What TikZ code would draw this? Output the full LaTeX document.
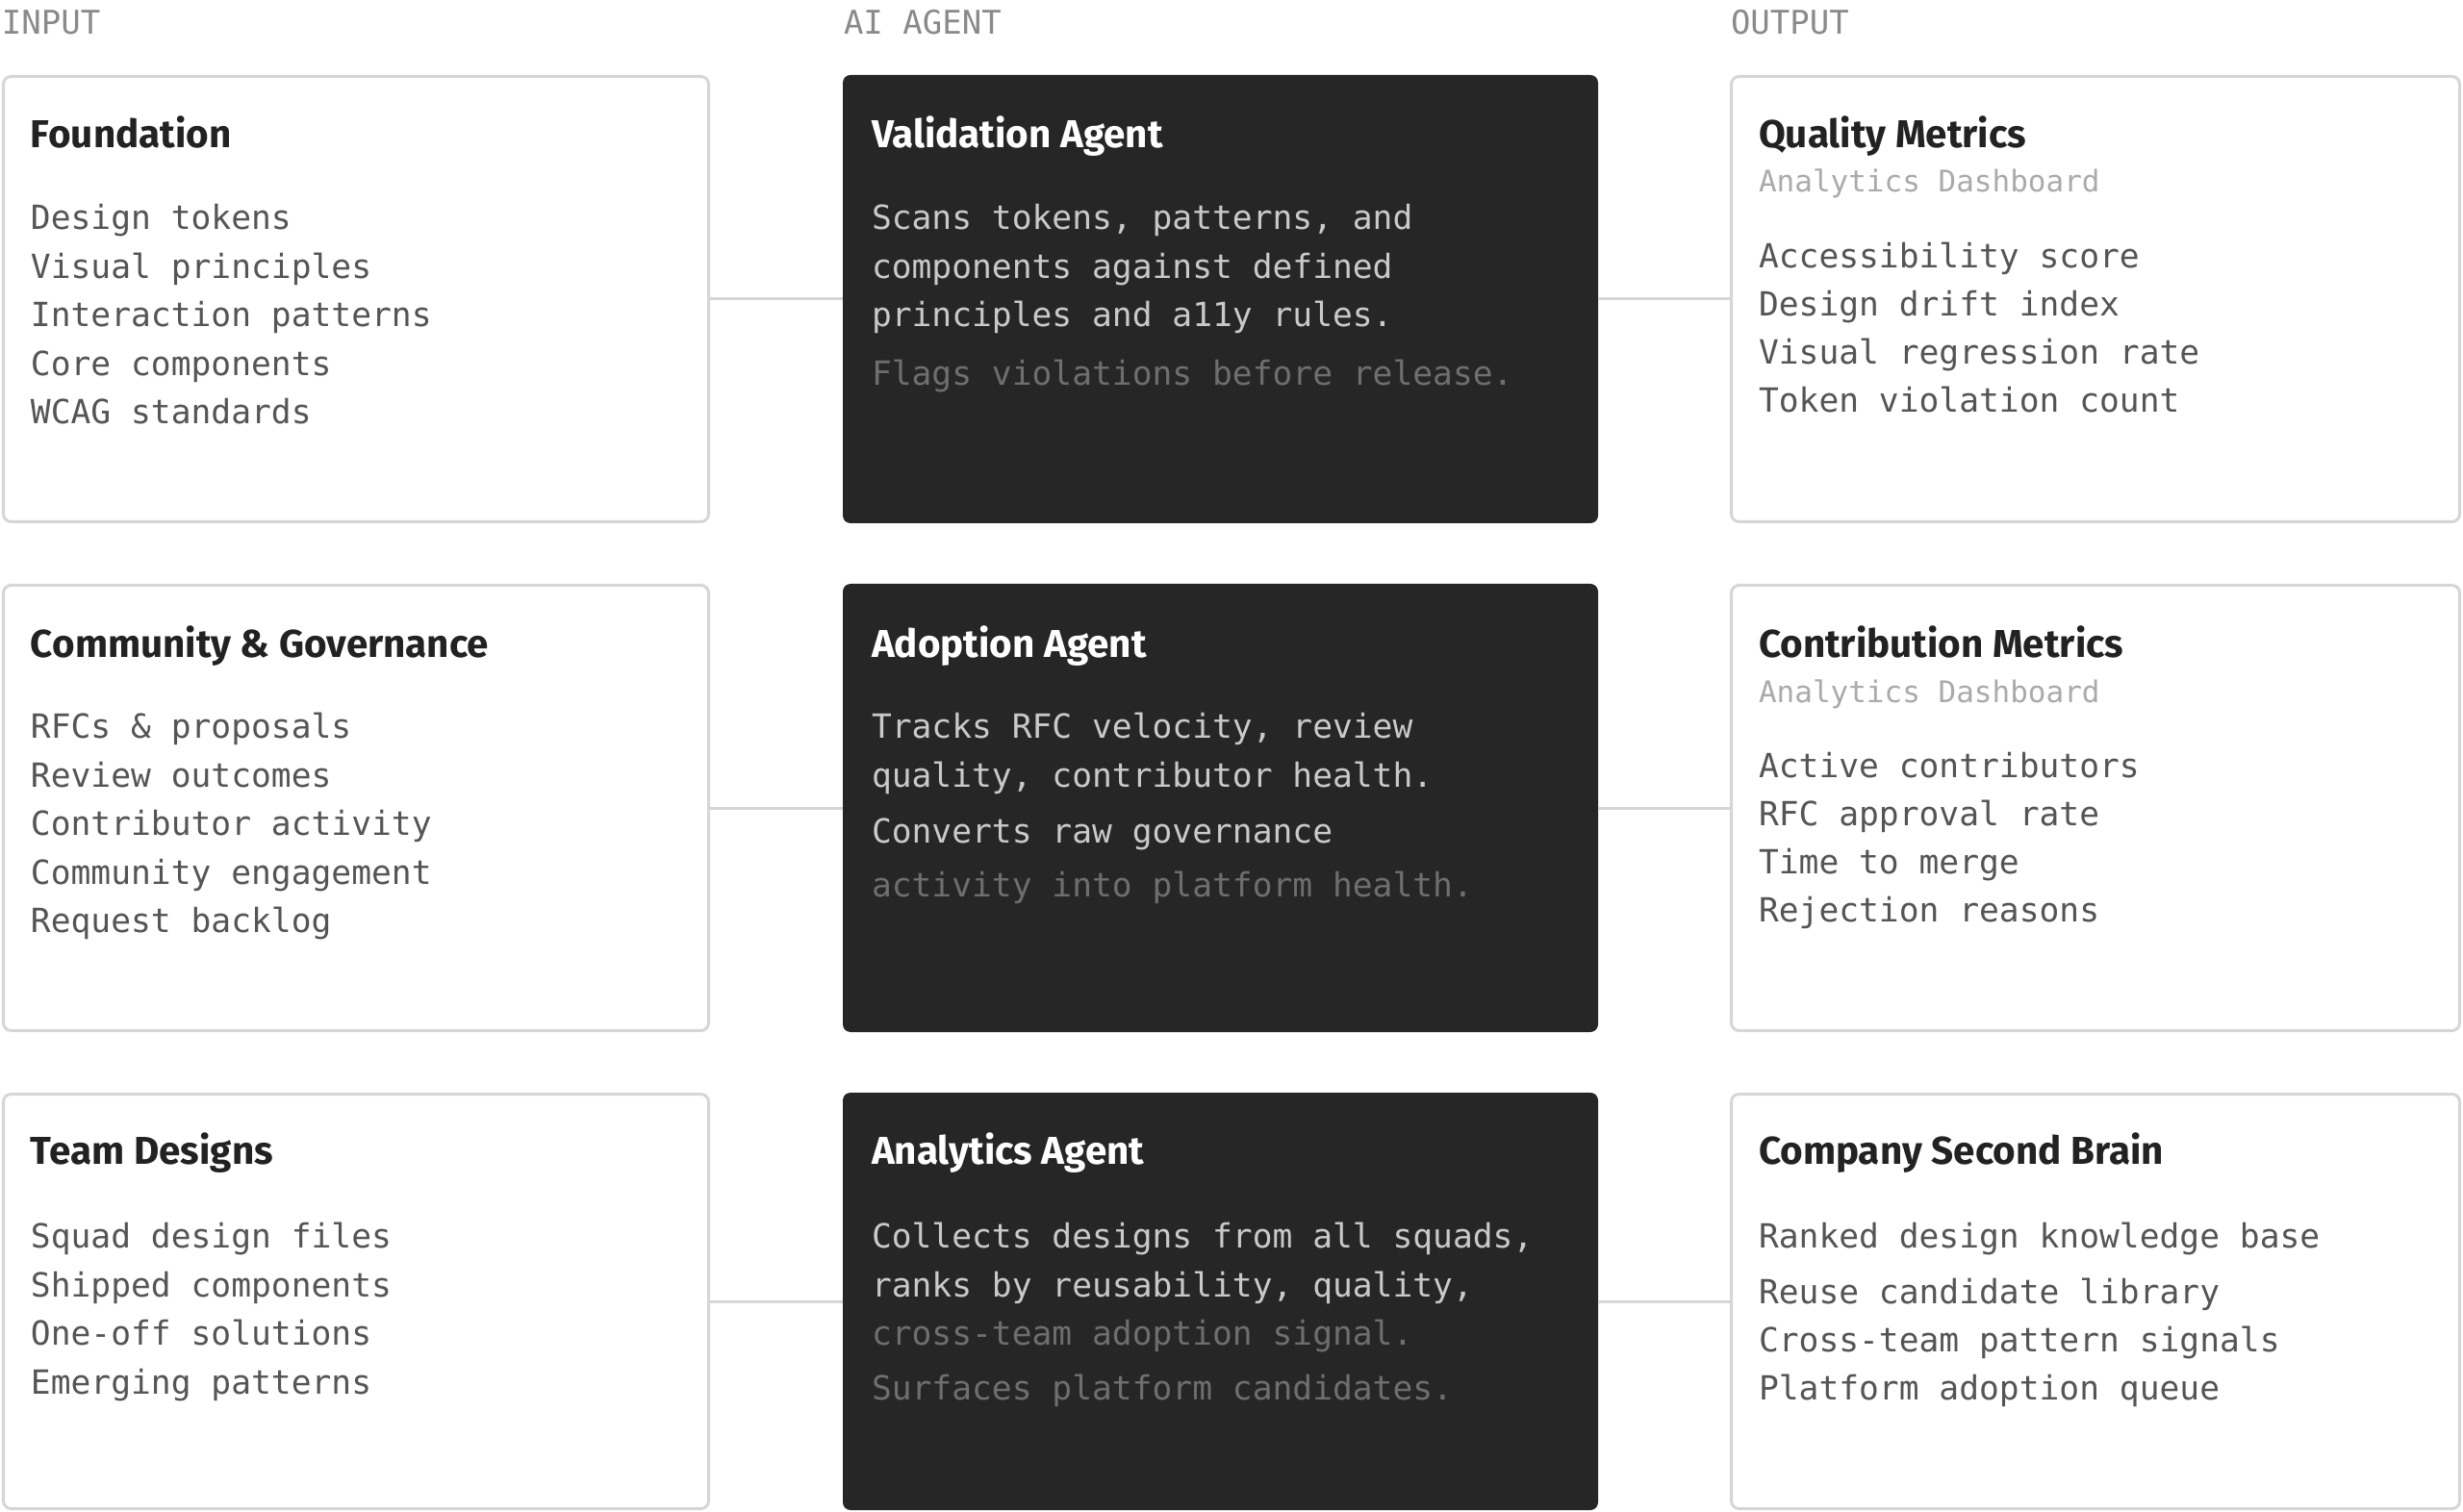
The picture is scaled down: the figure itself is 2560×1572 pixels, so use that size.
\documentclass[tikz,border=0pt]{standalone}
\usepackage{fontspec}
\setmonofont{DejaVu Sans Mono}
\setsansfont{Fira Sans}
\definecolor{bordergray}{HTML}{D6D6D6}
\definecolor{darkfill}{HTML}{262626}
\definecolor{titlecol}{HTML}{222222}
\definecolor{bodycol}{HTML}{555555}
\definecolor{subcol}{HTML}{AAAAAA}
\definecolor{hdrcol}{HTML}{8A8A8A}
\definecolor{dbodycol}{HTML}{C9C9C9}
\definecolor{dimcol}{HTML}{6E6E6E}
\tikzset{
  lightbox/.style={draw=bordergray, line width=1.5pt, fill=white, rounded corners=4pt, inner sep=0pt, outer sep=0pt},
  darkbox/.style={fill=darkfill, rounded corners=4pt, inner sep=0pt, outer sep=0pt, minimum width=392.5pt},
  titletext/.style={anchor=base west, inner sep=0pt, outer sep=0pt, font=\sffamily\bfseries\fontsize{20.2pt}{24pt}\selectfont, text=titlecol},
  dtitletext/.style={titletext, text=white},
  bodytext/.style={anchor=base west, inner sep=0pt, outer sep=0pt, font=\ttfamily\fontsize{17.3pt}{20pt}\selectfont, text=bodycol},
  dbodytext/.style={bodytext, text=dbodycol},
  dimtext/.style={bodytext, text=dimcol},
  subtext/.style={bodytext, font=\ttfamily\fontsize{15.5pt}{18pt}\selectfont, text=subcol},
  hdrtext/.style={bodytext, font=\ttfamily\fontsize{17pt}{20pt}\selectfont, text=hdrcol},
  link/.style={draw=bordergray, line width=1.5pt},
  colA/.style={minimum width=366.5pt},
  colC/.style={minimum width=378.5pt},
  rowAB/.style={minimum height=231.5pt},
  rowC/.style={minimum height=215.5pt},
}
\begin{document}
\begin{tikzpicture}[x=0.5pt,y=-0.5pt]
\useasboundingbox (0,0) rectangle (2560,1572);
% headers
\node[hdrtext] (hin) at (2,36) {INPUT};
\node[hdrtext] (hag) at (877,36) {AI AGENT};
\node[hdrtext] (hout) at (1799,36) {OUTPUT};
% boxes
\node[lightbox,colA,rowAB] (f) at (370,311) {};
\node[lightbox,colA,rowAB] (cg) at (370,840) {};
\node[lightbox,colA,rowC] (td) at (370,1353) {};
\node[darkbox,minimum height=233pt] (va) at (1268.5,311) {};
\node[darkbox,minimum height=233pt] (aa) at (1268.5,840) {};
\node[darkbox,minimum height=217pt] (an) at (1268.5,1353) {};
\node[lightbox,colC,rowAB] (qm) at (2178,311) {};
\node[lightbox,colC,rowAB] (cm) at (2178,840) {};
\node[lightbox,colC,rowC] (sb) at (2178,1353) {};
% connectors
\draw[link] (f.east) -- (va.west);
\draw[link] (va.east) -- (qm.west);
\draw[link] (cg.east) -- (aa.west);
\draw[link] (aa.east) -- (cm.west);
\draw[link] (td.east) -- (an.west);
\draw[link] (an.east) -- (sb.west);
% row 1
\node[titletext] (f-t) at (32,154) {Foundation};
\node[bodytext] (f-1) at (32,239) {Design tokens};
\node[bodytext] (f-2) at (32,290) {Visual principles};
\node[bodytext] (f-3) at (32,340) {Interaction patterns};
\node[bodytext] (f-4) at (32,391) {Core components};
\node[bodytext] (f-5) at (32,441) {WCAG standards};
\node[dtitletext] (va-t) at (906,154) {Validation Agent};
\node[dbodytext] (va-1) at (906,239) {Scans tokens, patterns, and};
\node[dbodytext] (va-2) at (906,290) {components against defined};
\node[dbodytext] (va-3) at (906,340) {principles and a11y rules.};
\node[dimtext] (va-4) at (906,401) {Flags violations before release.};
\node[titletext] (qm-t) at (1828,154) {Quality Metrics};
\node[subtext] (qm-s) at (1828,200) {Analytics Dashboard};
\node[bodytext] (qm-1) at (1828,279) {Accessibility score};
\node[bodytext] (qm-2) at (1828,329) {Design drift index};
\node[bodytext] (qm-3) at (1828,379) {Visual regression rate};
\node[bodytext] (qm-4) at (1828,429) {Token violation count};
% row 2
\node[titletext] (cg-t) at (32,683) {Community \& Governance};
\node[bodytext] (cg-1) at (32,768) {RFCs \& proposals};
\node[bodytext] (cg-2) at (32,818) {Review outcomes};
\node[bodytext] (cg-3) at (32,868) {Contributor activity};
\node[bodytext] (cg-4) at (32,919) {Community engagement};
\node[bodytext] (cg-5) at (32,969) {Request backlog};
\node[dtitletext] (aa-t) at (906,683) {Adoption Agent};
\node[dbodytext] (aa-1) at (906,768) {Tracks RFC velocity, review};
\node[dbodytext] (aa-2) at (906,818) {quality, contributor health.};
\node[dbodytext] (aa-3) at (906,876) {Converts raw governance};
\node[dimtext] (aa-4) at (906,932) {activity into platform health.};
\node[titletext] (cm-t) at (1828,683) {Contribution Metrics};
\node[subtext] (cm-s) at (1828,730) {Analytics Dashboard};
\node[bodytext] (cm-1) at (1828,808) {Active contributors};
\node[bodytext] (cm-2) at (1828,858) {RFC approval rate};
\node[bodytext] (cm-3) at (1828,908) {Time to merge};
\node[bodytext] (cm-4) at (1828,958) {Rejection reasons};
% row 3
\node[titletext] (td-t) at (32,1210) {Team Designs};
\node[bodytext] (td-1) at (32,1297) {Squad design files};
\node[bodytext] (td-2) at (32,1348) {Shipped components};
\node[bodytext] (td-3) at (32,1398) {One-off solutions};
\node[bodytext] (td-4) at (32,1449) {Emerging patterns};
\node[dtitletext] (an-t) at (906,1210) {Analytics Agent};
\node[dbodytext] (an-1) at (906,1297) {Collects designs from all squads,};
\node[dbodytext] (an-2) at (906,1348) {ranks by reusability, quality,};
\node[dimtext] (an-3) at (906,1398) {cross-team adoption signal.};
\node[dimtext] (an-4) at (906,1455) {Surfaces platform candidates.};
\node[titletext] (sb-t) at (1828,1210) {Company Second Brain};
\node[bodytext] (sb-1) at (1828,1297) {Ranked design knowledge base};
\node[bodytext] (sb-2) at (1828,1355) {Reuse candidate library};
\node[bodytext] (sb-3) at (1828,1405) {Cross-team pattern signals};
\node[bodytext] (sb-4) at (1828,1455) {Platform adoption queue};
\end{tikzpicture}
\end{document}
